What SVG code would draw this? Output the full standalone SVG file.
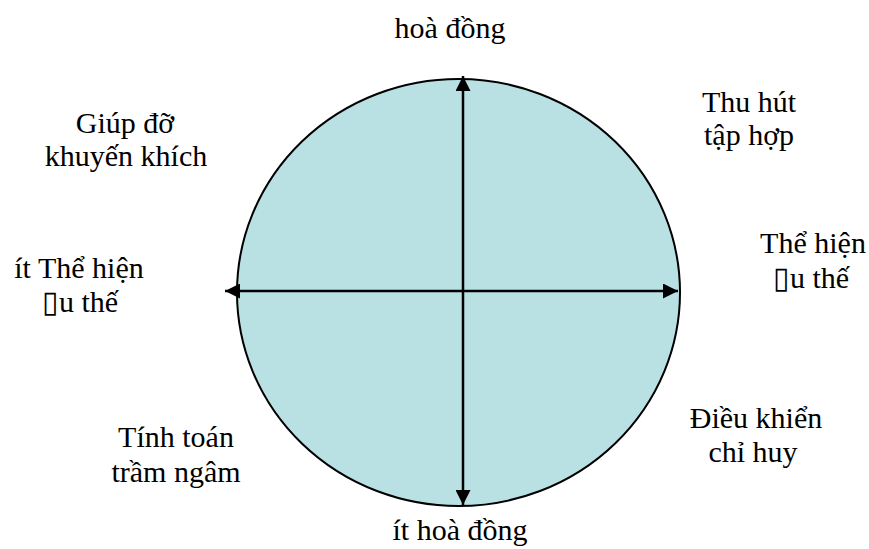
<svg xmlns="http://www.w3.org/2000/svg" width="869" height="549" viewBox="0 0 869 549">
<style>
.ax{stroke:#000;stroke-width:2.5;fill:none}
</style>
<defs>
<marker id="ah" viewBox="0 0 10 10" refX="10" refY="5" markerWidth="6" markerHeight="6" markerUnits="strokeWidth" orient="auto-start-reverse">
<path d="M0,0 L10,5 L0,10 Z" fill="#000"/>
</marker>
</defs>
<rect width="869" height="549" fill="#fff"/>
<g id="circle">
<ellipse cx="458.5" cy="292.5" rx="221.5" ry="213.5" fill="#b9e0e3" stroke="#000" stroke-width="2"/>
</g>
<g id="connectors">
<line class="ax" x1="463" y1="505" x2="463" y2="76" marker-start="url(#ah)" marker-end="url(#ah)"/>
<line class="ax" x1="225" y1="291" x2="678" y2="291" marker-start="url(#ah)" marker-end="url(#ah)"/>
</g>
<g id="labels" font-family="Liberation Serif, Times New Roman, serif" font-size="30" text-anchor="middle" fill="#000">
<g id="top"><text x="450" y="38">hoà đồng</text></g>
<g id="bottom"><text x="460" y="540">ít hoà đồng</text></g>
<g id="upper-left"><text x="125" y="133">Giúp đỡ</text><text x="126" y="166">khuyến khích</text></g>
<g id="upper-right"><text x="749" y="112">Thu hút</text><text x="749" y="145">tập hợp</text></g>
<g id="right"><text x="813" y="253">Thể hiện</text><text x="811" y="288">▯u thế</text></g>
<g id="left"><text x="79" y="278">ít Thể hiện</text><text x="80" y="312">▯u thế</text></g>
<g id="lower-right"><text x="756" y="428">Điều khiển</text><text x="753" y="462">chỉ huy</text></g>
<g id="lower-left"><text x="176" y="447">Tính toán</text><text x="176" y="482">trầm ngâm</text></g>
</g>
</svg>
